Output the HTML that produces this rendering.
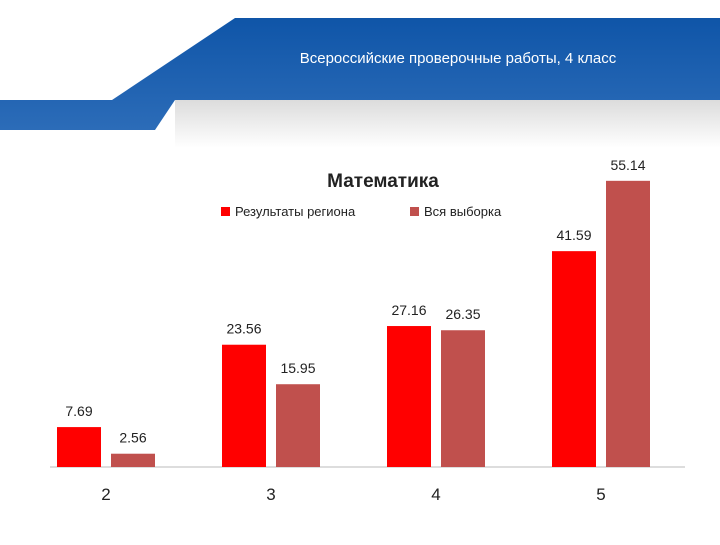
<!DOCTYPE html>
<html><head><meta charset="utf-8"><style>
body{margin:0;width:720px;height:540px;overflow:hidden;background:#fff;font-family:"Liberation Sans",sans-serif}
</style></head><body>
<svg width="720" height="540">
<defs>
<linearGradient id="gb" x1="0" y1="0" x2="0" y2="1"><stop offset="0" stop-color="#0f55a8"/><stop offset="1" stop-color="#2c6cb8"/></linearGradient>
<linearGradient id="gg" x1="0" y1="0" x2="0" y2="1"><stop offset="0" stop-color="#dcdcdc"/><stop offset="1" stop-color="#ffffff"/></linearGradient>
</defs>
<g>
<rect x="175" y="100" width="545" height="48" fill="url(#gg)"/>
<polygon points="235,18 720,18 720,100 175,100 155,130 0,130 0,100 112,100" fill="url(#gb)"/>
<text x="458" y="63" text-anchor="middle" fill="#fff" font-size="15">Всероссийские проверочные работы, 4 класс</text>
</g>
<g id="chart">
<text x="383" y="187" text-anchor="middle" font-size="19" font-weight="bold" fill="#222">Математика</text>
<g><rect x="221" y="207" width="9" height="9" fill="#ff0000"/><text x="235" y="216" font-size="13" fill="#222">Результаты региона</text></g>
<g><rect x="410" y="207" width="9" height="9" fill="#c0504d"/><text x="424" y="216" font-size="13" fill="#222">Вся выборка</text></g>
<line x1="50" y1="467" x2="685" y2="467" stroke="#bbb"/>
</g>
</svg>
<script>
const categories=["2","3","4","5"];
const regionValues=[7.69,23.56,27.16,41.59];
const allValues=[2.56,15.95,26.35,55.14];
const svg=document.querySelector('svg');const g=document.getElementById('chart');
const NS="http://www.w3.org/2000/svg";
const base=467,k=5.19;
function y(v){return base-v*k;}
function cx(i){return 106+i*165;}
function mk(t,a){const e=document.createElementNS(NS,t);for(const n in a)e.setAttribute(n,a[n]);g.appendChild(e);return e;}
categories.forEach((c,i)=>{
 let r=mk('rect',{x:cx(i)-49,y:y(regionValues[i]),width:44,height:regionValues[i]*k,fill:'#ff0000'});
 
 
 let d=mk('rect',{x:cx(i)+5,y:y(allValues[i]),width:44,height:allValues[i]*k,fill:'#c0504d'});
 
 
 let t1=mk('text',{x:cx(i)-27,y:y(regionValues[i])-11,'text-anchor':'middle','font-size':14,fill:'#222'});t1.textContent=regionValues[i].toFixed(2);
 
 
 let t2=mk('text',{x:cx(i)+27,y:y(allValues[i])-11,'text-anchor':'middle','font-size':14,fill:'#222'});t2.textContent=allValues[i].toFixed(2);
 
 
 let tx=mk('text',{x:cx(i),y:500,'text-anchor':'middle','font-size':17,fill:'#222'});tx.textContent=c;
 
 
});
</script>
</body></html>
